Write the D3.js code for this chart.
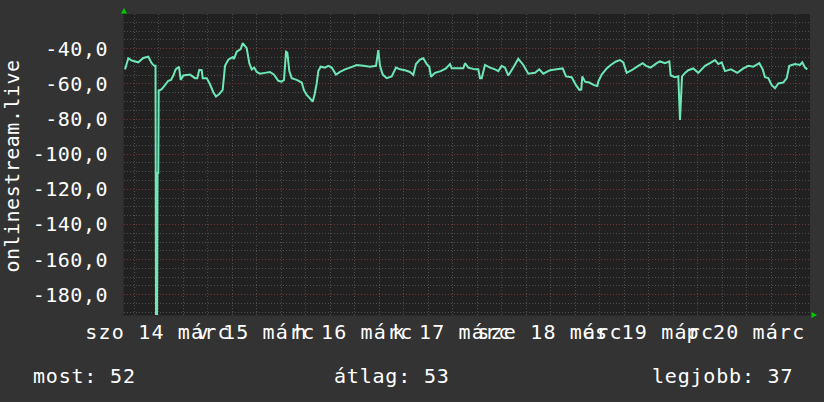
<!DOCTYPE html>
<html><head><meta charset="utf-8">
<script src="https://cdn.jsdelivr.net/npm/d3@7"></script>
<style>
body{margin:0;background:#333333;}
svg{display:block;}
text{font-family:"DejaVu Sans Mono",monospace;font-size:20px;fill:#ffffff;letter-spacing:0.5px;}
</style></head>
<body>
<svg id="chart" width="824" height="402"></svg>
<script>
// ---- data ----
const yAxisTitle = "onlinestream.live";
const dayLabels = ["szo 14 márc","v 15 márc","h 16 márc","k 17 márc","sze 18 márc","cs 19 márc","p 20 márc"];
const yTickValues = [-40,-60,-80,-100,-120,-140,-160,-180];
const legendLabels = ["most: 52","átlag: 53","legjobb: 37"];
// hours since 2020-03-14 00:00
const hours = [3.92,4.73,5.56,7.18,8.40,9.62,10.46,11.09,11.39,11.51,11.76,11.88,12.07,12.17,12.32,12.91,13.71,14.52,15.18,15.75,16.33,17.14,17.56,18.20,19.84,21.06,21.62,22.11,22.70,22.95,23.93,24.73,25.54,26.20,27.01,27.84,28.41,29.22,30.29,30.61,31.27,32.25,32.74,33.23,33.72,34.36,34.95,35.58,36.17,36.98,38.20,39.43,40.41,41.46,42.29,42.86,43.35,43.67,44.16,44.74,45.97,47.19,47.76,48.42,49.22,49.89,50.38,50.87,51.26,51.84,52.90,53.71,54.54,55.59,56.57,57.80,59.02,60.66,62.28,63.92,65.39,65.95,66.37,67.03,68.01,69.23,70.29,71.27,72.49,73.71,74.52,75.18,76.16,76.97,77.80,78.44,78.86,79.84,81.23,82.53,83.51,83.93,86.77,87.18,87.99,89.63,90.44,90.86,91.27,92.08,93.31,94.53,95.34,96.17,96.98,97.79,99.01,100.24,101.46,102.69,104.33,105.38,106.36,108.00,109.64,111.11,111.92,113.31,114.37,115.18,115.66,115.91,116.57,117.62,118.78,119.58,119.83,120.66,121.89,122.87,124.16,125.14,125.95,126.78,128.01,129.62,130.70,131.51,132.66,134.13,134.94,136.16,137.22,137.56,138.61,139.42,139.84,140.33,141.06,141.87,143.09,144.32,145.96,147.18,148.41,149.22,150.05,150.86,152.33,153.87,155.34,156.57,157.79,159.26,160.09,160.65,161.46,162.29,163.10,163.91,165.13,165.97,166.60,168.00,169.22,169.79,170.45,171.01];
const values = [-52,-45.7,-47,-48,-45.5,-44.8,-48.5,-50,-50,-195,-195,-111,-111,-64,-64,-63.3,-61,-58.5,-58,-55.5,-52,-50.5,-58,-55.5,-55,-57,-57,-52.3,-52.5,-57,-57,-60.5,-65,-67.5,-66,-63.7,-50,-46.5,-45,-46,-42,-40.5,-37,-38.5,-40,-48.5,-52,-51,-53.5,-54.5,-54,-53.5,-55,-58.5,-59,-58,-42,-42.5,-53,-57,-58,-59.5,-64,-66.5,-68.5,-70.4,-66,-60,-53,-50.5,-51,-50,-51,-55,-53.5,-52,-51,-49.5,-50,-50.5,-50,-41,-50,-55,-57,-56,-51,-52,-52.5,-53.5,-55.2,-49,-46.5,-45.7,-49,-50.5,-56.2,-54,-53,-51.5,-49,-51.4,-51.4,-48.5,-51,-52,-52,-57,-57,-49.5,-51,-52,-53,-50,-51,-55.5,-51,-46,-49.5,-54.5,-54,-52,-54.5,-52.5,-52,-51.5,-56,-56.5,-61,-63.7,-63.5,-56,-59,-59.5,-61,-61.5,-59,-55,-51.5,-49.5,-47.5,-46.7,-48,-54,-52.5,-50,-48.5,-50,-51,-48.5,-47.5,-48.5,-47.5,-55.5,-56.5,-56,-80.8,-56,-54,-52.5,-51.5,-54,-50,-48.5,-46.7,-49,-48,-53,-52,-54,-51.5,-50,-50.5,-48.5,-52,-56.5,-57,-61,-62.8,-60,-59.5,-57,-50,-49,-49.5,-48,-51,-52];

// ---- layout ----
const W = 824, H = 402;
const L = 124, R = 810, T = 14, B = 315;
const base = new Date(2020, 2, 14, 0, 0);
const HOUR = 3600e3;
const start = new Date(+base + 3.673 * HOUR);
const end = new Date(+start + 168 * HOUR);

const x = d3.scaleTime().domain([start, end]).range([L, R]);
const y = d3.scaleLinear().domain([-191.8, -20.5]).range([B, T]);

const svg = d3.select("#chart");
svg.append("rect").attr("width", W).attr("height", H).attr("fill", "#333333");
svg.append("rect").attr("x", L).attr("y", T).attr("width", R - L).attr("height", B - T).attr("fill", "#212121");

const grid = svg.append("g").attr("shape-rendering", "crispEdges");
// minor horizontal grid every 5
const minorY = d3.range(-190, -20, 5).filter(v => v % 20 !== 0);
grid.selectAll(".hm").data(minorY).join("line")
  .attr("x1", L).attr("x2", R)
  .attr("y1", d => Math.round(y(d)) + 0.5).attr("y2", d => Math.round(y(d)) + 0.5)
  .attr("stroke", "#505050").attr("stroke-dasharray", "1,2");
// minor vertical every 6 h
const minorX = d3.timeHour.every(6).range(start, end).filter(d => d.getHours() !== 0);
grid.selectAll(".vm").data(minorX).join("line")
  .attr("y1", T).attr("y2", B)
  .attr("x1", d => Math.round(x(d)) + 0.5).attr("x2", d => Math.round(x(d)) + 0.5)
  .attr("stroke", "#505050").attr("stroke-dasharray", "1,2");
// major horizontal
grid.selectAll(".hM").data(yTickValues).join("line")
  .attr("x1", L).attr("x2", R)
  .attr("y1", d => Math.round(y(d)) + 0.5).attr("y2", d => Math.round(y(d)) + 0.5)
  .attr("stroke", "#7a3434").attr("stroke-dasharray", "1,2");
// major vertical at midnight
const majorX = d3.timeDay.range(start, end);
grid.selectAll(".vM").data(majorX).join("line")
  .attr("y1", T).attr("y2", B)
  .attr("x1", d => Math.round(x(d)) + 0.5).attr("x2", d => Math.round(x(d)) + 0.5)
  .attr("stroke", "#7a3434").attr("stroke-dasharray", "1,2");

// axis lines
svg.append("line").attr("x1", L - 0.5).attr("x2", L - 0.5).attr("y1", T - 2).attr("y2", B + 0.5)
  .attr("stroke", "#2a2a2a").attr("shape-rendering", "crispEdges");
svg.append("line").attr("x1", L - 3).attr("x2", R + 2).attr("y1", B + 0.5).attr("y2", B + 0.5)
  .attr("stroke", "#2a2a2a").attr("shape-rendering", "crispEdges");

// data line
svg.append("clipPath").attr("id", "clip").append("rect")
  .attr("x", L).attr("y", T).attr("width", R - L).attr("height", B - T);
const pts = hours.map((h, i) => ({t: new Date(+base + h * HOUR), v: values[i]}));
const line = d3.line().x(d => x(d.t)).y(d => y(d.v)).curve(d3.curveLinear);
svg.append("path").datum(pts).attr("clip-path", "url(#clip)")
  .attr("d", line).attr("fill", "none").attr("stroke", "#6ee7b7")
  .attr("stroke-width", 2).attr("stroke-linejoin", "miter").attr("stroke-miterlimit", 2);

// arrows
svg.append("path").attr("d", `M${L - 3},${T - 0.5}L${L + 3},${T - 0.5}L${L},${T - 6}Z`).attr("fill", "#00cc00");
svg.append("path").attr("d", `M${R + 1.5},${B - 3}L${R + 1.5},${B + 3}L${R + 7},${B}Z`).attr("fill", "#00cc00");

// y tick labels
const fmt = d3.formatLocale({decimal: ",", thousands: " ", grouping: [3], currency: ["", ""], minus: "-"}).format(".1f");
svg.selectAll(".yl").data(yTickValues).join("text")
  .attr("x", 108).attr("y", d => y(d) + 7.5).attr("text-anchor", "end").text(d => fmt(d));

// x labels at noon
const noons = d3.timeDay.range(new Date(+base - 24 * HOUR), end).map(d => new Date(+d + 12 * HOUR)).filter(d => d >= start && d <= end);
svg.selectAll(".xl").data(noons).join("text")
  .attr("x", d => x(d)).attr("y", 339).attr("text-anchor", "middle")
  .style("letter-spacing", "1.2px").text((d, i) => dayLabels[i]);

// y axis title
svg.append("text").attr("transform", "translate(19,166) rotate(-90)").attr("text-anchor", "middle").text(yAxisTitle);

// legend
const legendX = [33, 334, 652];
svg.selectAll(".lg").data(legendLabels).join("text")
  .attr("x", (d, i) => legendX[i]).attr("y", 383).style("letter-spacing", "0.8px").text(d => d);
</script>
</body></html>
